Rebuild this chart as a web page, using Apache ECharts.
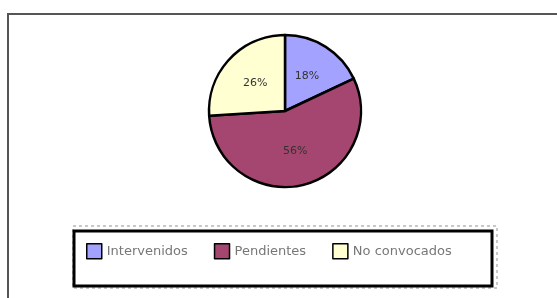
<!DOCTYPE html>
<html>
<head>
<meta charset="utf-8">
<script src="https://cdn.jsdelivr.net/npm/echarts@6/dist/echarts.min.js"></script>
<style>
  html, body { margin: 0; padding: 0; background: #fff; }
  #chart { width: 557px; height: 298px; }
</style>
</head>
<body>
<div id="chart"></div>
<script>
// datos del gráfico
const categorias = ["Intervenidos", "Pendientes", "No convocados"];
const valores = [18, 56, 26];
const colores = ["#a3a3ff", "#a4466f", "#ffffd2"];

const chart = echarts.init(document.getElementById('chart'));

var option = {
  animation: false,
  color: colores,
  graphic: [
    {
      // marco exterior
      type: 'rect',
      shape: { x: 8, y: 14, width: 560, height: 300 },
      style: { fill: 'none', stroke: '#555', lineWidth: 2 },
      silent: true
    },
    {
      // contorno punteado de la leyenda
      type: 'rect',
      shape: { x: 73, y: 226, width: 424, height: 62 },
      style: { fill: 'none', stroke: '#c8c8c8', lineWidth: 2, lineDash: [3, 3] },
      silent: true
    },
    {
      // caja de la leyenda
      type: 'rect',
      shape: { x: 74, y: 231, width: 418, height: 55 },
      style: { fill: '#fff', stroke: '#000', lineWidth: 3 },
      silent: true
    }
  ],
  legend: {
    left: 81,
    top: 238,
    icon: 'rect',
    itemWidth: 15,
    itemHeight: 15,
    itemGap: 26,
    itemStyle: { borderColor: '#000', borderWidth: 1.5 },
    textStyle: { color: '#777', fontSize: 13, fontFamily: 'DejaVu Sans' },
    data: categorias
  },
  series: [
    {
      type: 'pie',
      center: [285, 111],
      radius: 76,
      startAngle: 90,
      clockwise: true,
      itemStyle: { borderColor: '#000', borderWidth: 2.5 },
      label: {
        show: true,
        position: 'inner',
        formatter: '{d}%',
        color: '#333',
        fontSize: 11,
        fontFamily: 'DejaVu Sans'
      },
      labelLine: { show: false },
      emphasis: { disabled: true },
      data: categorias.map(function (c, i) {
        return { name: c, value: valores[i] };
      })
    }
  ]
};

chart.setOption(option);
</script>
</body>
</html>
